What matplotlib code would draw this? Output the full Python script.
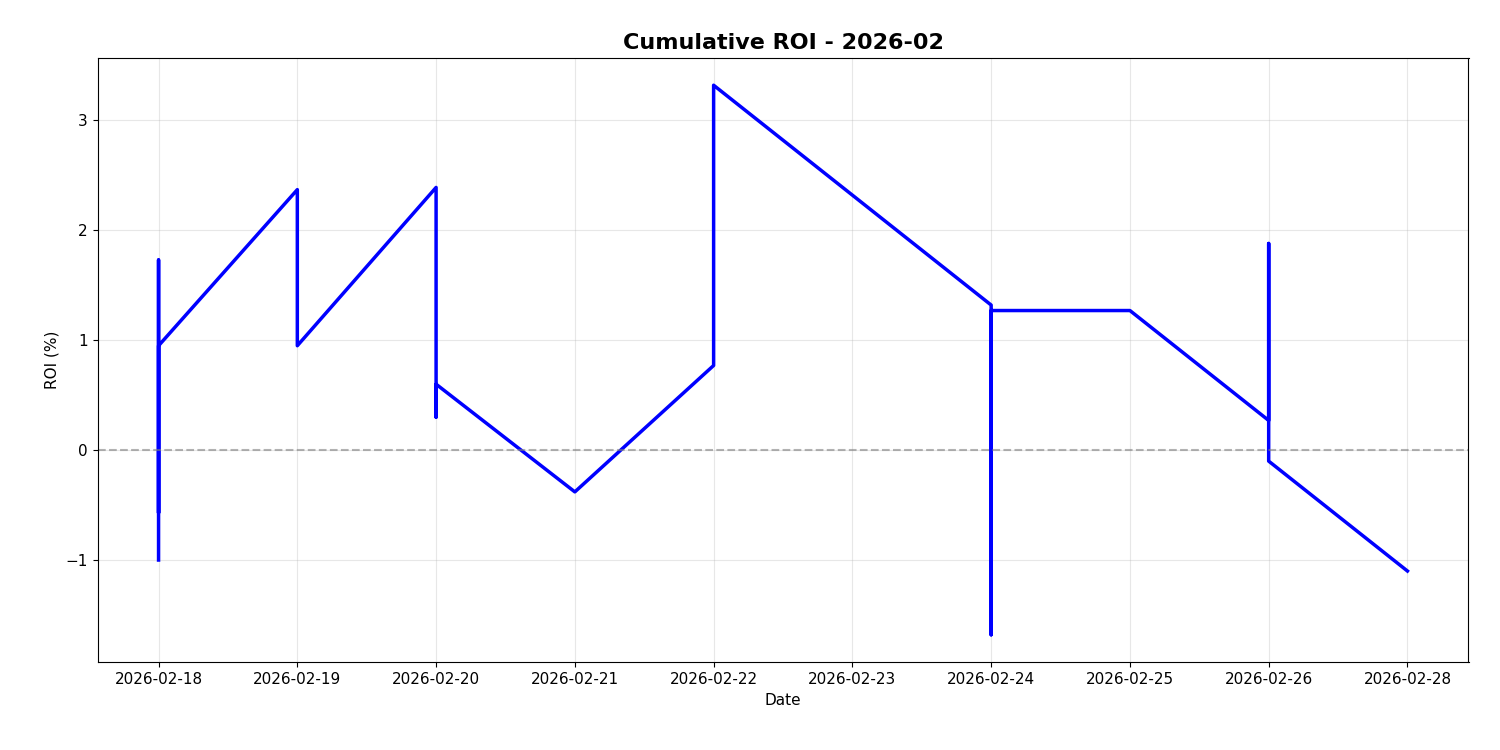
import numpy as np
import matplotlib; matplotlib.use('Agg')  # noqa
import matplotlib.pyplot as plt

dates = ['2026-02-18', '2026-02-18', '2026-02-18', '2026-02-18',
         '2026-02-19', '2026-02-19', '2026-02-19', '2026-02-19',
         '2026-02-20', '2026-02-20', '2026-02-20', '2026-02-20',
         '2026-02-21',
         '2026-02-22', '2026-02-22',
         '2026-02-24', '2026-02-24', '2026-02-24',
         '2026-02-25',
         '2026-02-26', '2026-02-26', '2026-02-26',
         '2026-02-28']
roi = [-1.0, 1.73, -0.57, 0.95,
       2.37, 1.95, 1.38, 0.95,
       2.39, 1.6, 0.3, 0.6,
       -0.38,
       0.77, 3.32,
       1.32, -1.68, 1.27,
       1.27,
       0.27, 1.88, -0.1,
       -1.1]
tick_dates = ['2026-02-18', '2026-02-19', '2026-02-20', '2026-02-21', '2026-02-22',
              '2026-02-23', '2026-02-24', '2026-02-25', '2026-02-26', '2026-02-28']

# x axis is categorical: each tick label is one evenly spaced slot
x = [tick_dates.index(d) for d in dates]
fig, ax = plt.subplots(figsize=(15, 7.5), dpi=100)
ax.plot(x, roi, color='blue', linewidth=2.5)
ax.axhline(0, color='gray', linestyle='--', alpha=0.6, linewidth=1.5)
ax.set_xticks(range(len(tick_dates)))
ax.set_xticklabels(tick_dates, fontsize=11)
ax.set_xlim(-0.44, len(tick_dates) - 1 + 0.44)
ax.tick_params(axis='y', labelsize=11)
ax.grid(True, alpha=0.3)
ax.set_title('Cumulative ROI - 2026-02', fontsize=16, fontweight='bold')
ax.set_xlabel('Date', fontsize=11)
ax.set_ylabel('ROI (%)', fontsize=11)
plt.subplots_adjust(left=0.065, right=0.979, top=0.923, bottom=0.117)
plt.savefig('out.png')
